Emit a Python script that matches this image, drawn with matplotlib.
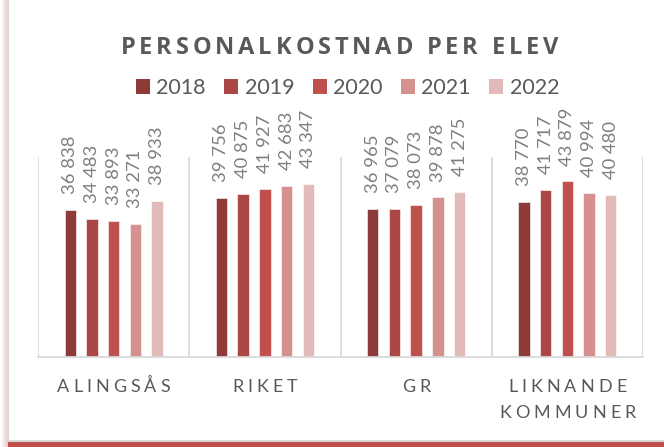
import numpy as np
import matplotlib
matplotlib.use("Agg")
import matplotlib.pyplot as plt
from matplotlib.patches import Rectangle, Patch
from matplotlib.font_manager import FontProperties
from matplotlib.transforms import IdentityTransform

# data
categories = ["ALINGSÅS", "RIKET", "GR", "LIKNANDE\nKOMMUNER"]
years = ["2018", "2019", "2020", "2021", "2022"]
v2018 = [36838, 39756, 36965, 38770]
v2019 = [34483, 40875, 37079, 41717]
v2020 = [33893, 41927, 38073, 43879]
v2021 = [33271, 42683, 39878, 40994]
v2022 = [38933, 43347, 41275, 40480]
series = [v2018, v2019, v2020, v2021, v2022]
colors = ["#8E3A38", "#AB4745", "#C0504D", "#D49190", "#E2BABA"]
title = "PERSONALKOSTNAD PER ELEV"

FONT = "Lato"
W, H = 664, 447
fig = plt.figure(figsize=(W / 100, H / 100), dpi=100)
fig.patch.set_facecolor("white")
renderer = fig.canvas.get_renderer()


def px(x, y):
    # pixel coords from top-left -> figure fraction
    return x / W, 1 - y / H


def spaced_text(s, cx, baseline, prop, spacing=None, total_w=None, color="#595959"):
    # text with letter spacing, centred on cx, baseline in px from top
    size = prop.get_size_in_points()
    widths = []
    for ch in s:
        if ch == " ":
            widths.append(size * 100 / 72 * 0.25)
        else:
            w, h, d = renderer.get_text_width_height_descent(ch, prop, ismath=False)
            widths.append(w)
    if total_w is not None:
        spacing = (total_w - sum(widths)) / (len(s) - 1)
    total = sum(widths) + spacing * (len(s) - 1)
    x = cx - total / 2
    for ch, w in zip(s, widths):
        fig.text(x, H - baseline, ch, transform=IdentityTransform(),
                 fontproperties=prop, color=color, ha="left", va="baseline")
        x += w + spacing


# frame with red shadow
for i, a in enumerate([0.06, 0.08, 0.10, 0.14]):
    fig.add_artist(Rectangle(px(2 + i * 1.5, 447), W, 430, transform=fig.transFigure,
                             facecolor="#C0504D", alpha=a, edgecolor="none", zorder=-12))
fig.add_artist(Rectangle(px(8, 447), W, 6, transform=fig.transFigure,
                         facecolor="#C0504D", edgecolor="none", zorder=-11))
fig.add_artist(Rectangle(px(8, 441), W + 10, 435, transform=fig.transFigure,
                         facecolor="white", edgecolor="#D9D9D9", linewidth=1.5, zorder=-10))

# axes
l, b = px(38, 357)
ax = fig.add_axes([l, b, (643 - 38) / W, 200 / H])
ax.set_facecolor("none")
x = np.arange(len(categories))
width = 0.075
step = 0.1436
for i, (vals, c) in enumerate(zip(series, colors)):
    pos = x + (i - 2) * step
    ax.bar(pos, vals, width, color=c, edgecolor="white", linewidth=0.4, label=years[i])
    for xp, v in zip(pos, vals):
        ax.annotate(f"{v:,}".replace(",", " "), (xp, v), xytext=(0, 11.5),
                    textcoords="offset points", rotation=90, ha="center", va="bottom",
                    fontsize=13.3, color="#7F7F7F", family=FONT, annotation_clip=False)

ax.set_xlim(-0.5, 3.5)
ax.set_ylim(0, 50000)
ax.set_xticks(np.arange(-0.5, 4, 1), minor=True)
ax.set_xticks([])
ax.set_yticks([])
ax.grid(which="minor", axis="x", color="#D9D9D9", linewidth=1.3)
ax.tick_params(which="both", length=0)
for s in ["top", "left", "right"]:
    ax.spines[s].set_visible(False)
ax.spines["bottom"].set_color("#D9D9D9")
ax.spines["bottom"].set_linewidth(1.3)

# category labels with letter spacing
fig.canvas.draw()
cat_prop = FontProperties(family=FONT, size=13)
for xi, cat in zip(x, categories):
    cx = ax.transData.transform((xi, 0))[0]
    for j, line in enumerate(cat.split("\n")):
        spaced_text(line, cx, 391.5 + j * 26, cat_prop, spacing=4.0)

# title
title_prop = FontProperties(family="Open Sans", size=17, weight="bold")
spaced_text(title, 339.5, 54.5, title_prop, total_w=438)

# legend
handles = [Patch(facecolor=c, edgecolor="none") for c in colors]
fig.legend(handles, years, loc="center", bbox_to_anchor=px(347.5, 88), ncol=5,
           frameon=False, prop=FontProperties(family=FONT, size=15.5),
           labelcolor="#595959", handlelength=0.65, handleheight=0.65,
           handletextpad=0.3, columnspacing=0.85, borderaxespad=0, borderpad=0)

fig.savefig("out.png", dpi=100, facecolor="white")
